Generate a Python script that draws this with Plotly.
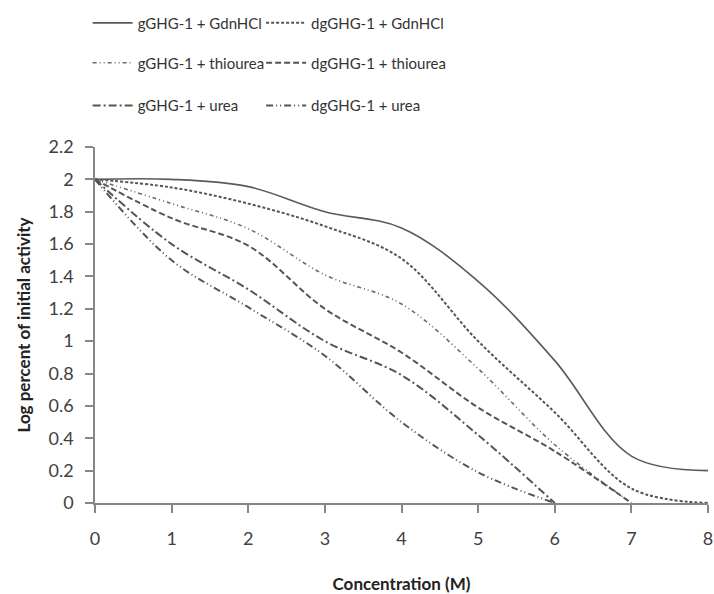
import plotly.graph_objects as go

x_full = [0, 1, 2, 3, 4, 5, 6, 7, 8]
x_to7 = [0, 1, 2, 3, 4, 5, 6, 7]
x_to6 = [0, 1, 2, 3, 4, 5, 6]

g_gdn = [2.0, 2.0, 1.955, 1.80, 1.70, 1.37, 0.88, 0.29, 0.20]
dg_gdn = [2.0, 1.95, 1.85, 1.71, 1.51, 1.00, 0.56, 0.09, 0.0]
g_thio = [2.0, 1.85, 1.695, 1.41, 1.23, 0.83, 0.36, 0.0]
dg_thio = [2.0, 1.76, 1.59, 1.20, 0.93, 0.59, 0.32, 0.0]
g_urea = [2.0, 1.60, 1.32, 1.00, 0.79, 0.42, 0.0]
dg_urea = [2.0, 1.50, 1.21, 0.91, 0.50, 0.19, 0.0]

names = ["gGHG-1 + GdnHCl", "dgGHG-1 + GdnHCl", "gGHG-1 + thiourea",
         "dgGHG-1 + thiourea", "gGHG-1 + urea", "dgGHG-1 + urea"]

series = [
    (x_full, g_gdn, "solid", "#5a5a5a", 1.6),
    (x_full, dg_gdn, "3px,2px", "#555555", 2.0),
    (x_to7, g_thio, "4px,3px,1px,3px,1px,3px", "#6a6a6a", 1.6),
    (x_to7, dg_thio, "6px,3px", "#555555", 2.0),
    (x_to6, g_urea, "8px,3px,2px,3px", "#555555", 2.0),
    (x_to6, dg_urea, "7px,3px,1px,3px,1px,3px", "#555555", 2.0),
]

legend_ids = ["legend", "legend2", "legend3", "legend4", "legend5", "legend6"]

fig = go.Figure()
for (xs, ys, dash, col, w), nm, lg in zip(series, names, legend_ids):
    fig.add_trace(go.Scatter(
        x=xs, y=ys, mode="lines", name=nm, legend=lg,
        line=dict(shape="spline", smoothing=1.0, dash=dash, color=col, width=w),
    ))

font_family = "Lato, 'Open Sans', sans-serif"
leg_common = dict(orientation="h", xanchor="left", yanchor="middle",
                  font=dict(family=font_family, size=15, color="#333333"),
                  itemwidth=40, bgcolor="rgba(0,0,0,0)")
col_x = [-0.012, 0.271]
row_y = [1.348, 1.236, 1.116]
legend_layout = {}
for i, lg in enumerate(legend_ids):
    legend_layout[lg] = dict(x=col_x[i % 2], y=row_y[i // 2], **leg_common)

fig.update_layout(
    width=714, height=594,
    margin=dict(l=95, r=6, t=147, b=91),
    paper_bgcolor="white", plot_bgcolor="white",
    font=dict(family=font_family, color="#404040"),
    showlegend=True,
    **legend_layout,
    xaxis=dict(
        range=[0, 8], tickvals=[0, 1, 2, 3, 4, 5, 6, 7, 8],
        showgrid=False, zeroline=False, automargin=False,
        showline=True, linecolor="#868686", linewidth=1.5,
        ticks="outside", ticklen=8, tickcolor="#868686", tickwidth=1.5,
        tickfont=dict(size=18, color="#404040"),
        ticklabelstandoff=11,
        title=dict(text="<b>Concentration (M)</b>", font=dict(size=17, color="#222222"), standoff=40),
    ),
    yaxis=dict(
        range=[0, 2.2], tickvals=[0, 0.2, 0.4, 0.6, 0.8, 1, 1.2, 1.4, 1.6, 1.8, 2, 2.2],
        ticktext=["0", "0.2", "0.4", "0.6", "0.8", "1", "1.2", "1.4", "1.6", "1.8", "2", "2.2"],
        showgrid=False, zeroline=False, automargin=False,
        showline=True, linecolor="#868686", linewidth=1.5,
        ticks="outside", ticklen=8, tickcolor="#868686", tickwidth=1.5,
        tickfont=dict(size=18, color="#404040"),
        ticklabelstandoff=8,
        title=dict(text="<b>Log percent of initial activity</b>", font=dict(size=17, color="#222222"), standoff=14),
    ),
)

fig.write_html("out.html")
